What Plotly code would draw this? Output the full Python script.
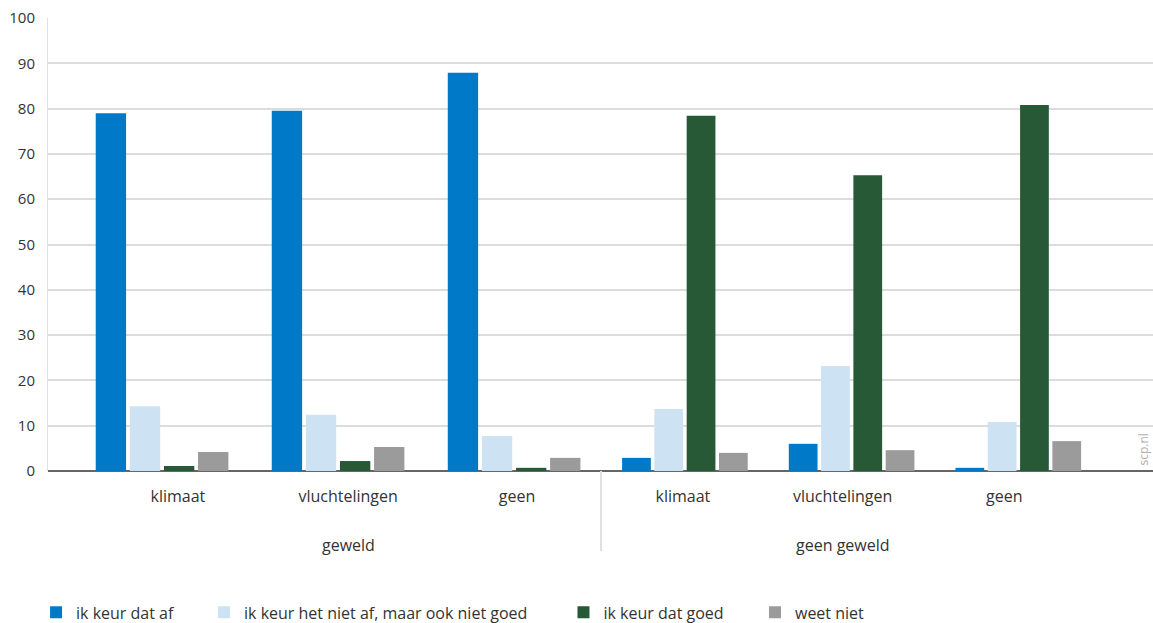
import plotly.graph_objects as go
from plotly.subplots import make_subplots

groups = ["geweld", "geen geweld"]
categories = ["klimaat", "vluchtelingen", "geen"]
series_names = ["ik keur dat af", "ik keur het niet af, maar ook niet goed", "ik keur dat goed", "weet niet"]
colors = ["#0079c8", "#cde3f3", "#275937", "#9b9b9b"]

# values per series, per group in category order (klimaat, vluchtelingen, geen)
keur_af = {"geweld": [79.0, 79.5, 87.9], "geen geweld": [2.9, 6.0, 0.7]}
niet_af_niet_goed = {"geweld": [14.3, 12.4, 7.7], "geen geweld": [13.7, 23.2, 10.8]}
keur_goed = {"geweld": [1.1, 2.2, 0.7], "geen geweld": [78.4, 65.3, 80.8]}
weet_niet = {"geweld": [4.2, 5.3, 2.9], "geen geweld": [4.0, 4.6, 6.6]}

series_values = [keur_af, niet_af_niet_goed, keur_goed, weet_niet]
y_ticks = [0, 10, 20, 30, 40, 50, 60, 70, 80, 90, 100]

FONT = "Open Sans"
TXT = "#333333"

# small horizontal nudges of the category labels (layout styling, in category units)
label_nudge = {"geweld": [0.09, 0.057, 0.017], "geen geweld": [-0.012, -0.054, -0.084]}
group_label_pos = {"geweld": 1.057, "geen geweld": 0.946}

legend_names = ["legend", "legend2", "legend3", "legend4"]
legend_x = [-0.0108, 0.1412, 0.4665, 0.6398]

split = 0.5005
fig = make_subplots(rows=1, cols=2, shared_yaxes=True, horizontal_spacing=0)
fig.update_layout(xaxis=dict(domain=[0, split]), xaxis2=dict(domain=[split, 1]))

for col_i, g in enumerate(groups, start=1):
    for name, vals, col, lg in zip(series_names, series_values, colors, legend_names):
        fig.add_trace(go.Bar(x=categories, y=vals[g], name=name, legend=lg,
                             showlegend=(col_i == 1),
                             marker=dict(color=col, line=dict(width=0))),
                      row=1, col=col_i)

layout_legends = {}
for lg, lx in zip(legend_names, legend_x):
    layout_legends[lg] = dict(orientation="h", x=lx, xanchor="left", y=0.017, yref="container",
                              yanchor="middle", font=dict(family=FONT, size=16, color=TXT),
                              bgcolor="rgba(0,0,0,0)")

fig.update_layout(
    width=1153, height=623,
    margin=dict(l=48, r=0, t=18, b=152, autoexpand=False),
    paper_bgcolor="white", plot_bgcolor="white",
    barmode="group", bargap=0.225, bargroupgap=0.11,
    font=dict(family=FONT, size=15, color=TXT),
    showlegend=True,
    **layout_legends,
)

fig.update_xaxes(
    showgrid=False, zeroline=False, ticks="", showline=False, automargin=False,
    tickfont=dict(family=FONT, size=16, color=TXT), ticklabelstandoff=14,
)
fig.update_xaxes(range=[-0.648, 2.494], tickmode="array",
                 tickvals=[i + d for i, d in enumerate(label_nudge["geweld"])],
                 ticktext=categories, row=1, col=1)
fig.update_xaxes(range=[-0.503, 2.808], tickmode="array",
                 tickvals=[i + d for i, d in enumerate(label_nudge["geen geweld"])],
                 ticktext=categories, row=1, col=2)

fig.update_yaxes(
    range=[0, 100], tickmode="array", tickvals=y_ticks,
    showgrid=True, gridcolor="#dcdcdc", gridwidth=1.5,
    zeroline=True, zerolinecolor="#666666", zerolinewidth=2,
    ticks="", automargin=False,
)
fig.update_yaxes(showline=True, linecolor="#e0e0e0", linewidth=1, ticklabelstandoff=9,
                 tickfont=dict(family=FONT, size=15, color=TXT), row=1, col=1)
fig.update_yaxes(showline=False, showticklabels=False, row=1, col=2)

# group labels
for xr, g in zip(["x", "x2"], groups):
    fig.add_annotation(x=group_label_pos[g], y=-0.164, xref=xr, yref="paper", text=g, showarrow=False,
                       font=dict(family=FONT, size=16, color=TXT), yanchor="middle")

# divider between groups
fig.add_shape(type="line", x0=split, x1=split, xref="paper", y0=0, y1=-0.177, yref="paper",
              line=dict(color="#e0e0e0", width=2))

# watermark
fig.add_annotation(x=1.0, y=0.0, xref="paper", yref="paper", text="scp.nl", textangle=-90,
                   showarrow=False, xanchor="right", yanchor="bottom", xshift=0, yshift=3,
                   font=dict(family=FONT, size=12, color="#b0b0b0"))

fig.write_html("out.html", config={"displayModeBar": False},
               post_script="document.body.style.margin='0';")
